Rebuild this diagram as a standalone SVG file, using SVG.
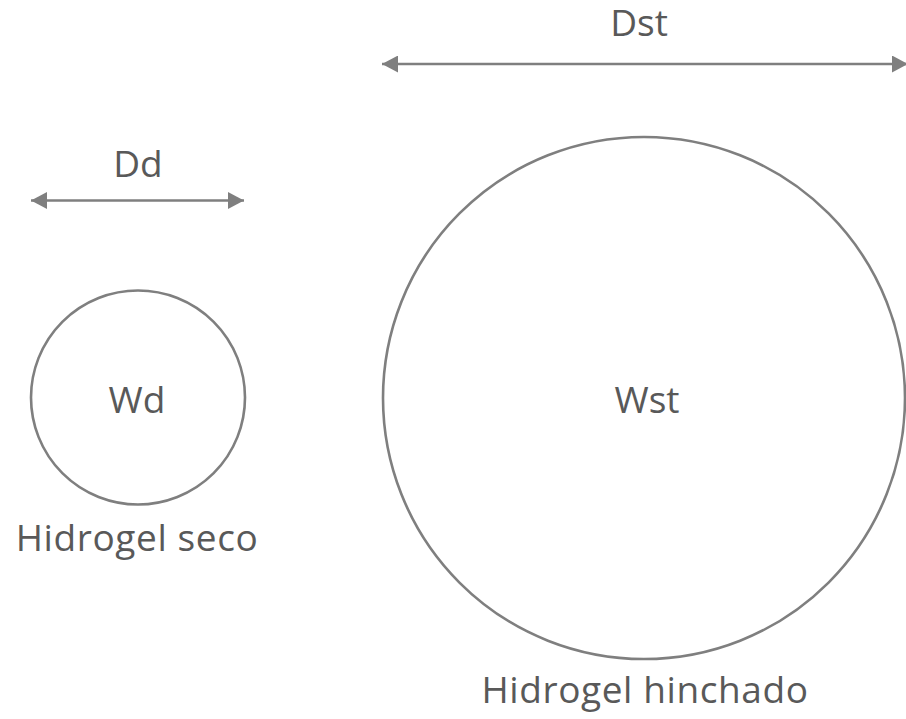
<svg xmlns="http://www.w3.org/2000/svg" width="906" height="719" viewBox="0 0 906 719">
  <style>
    .shape { fill: none; stroke: #7f7f7f; stroke-width: 2.6; }
    .dim { stroke: #7f7f7f; stroke-width: 2.6; fill: none; }
    .lbl { font-family: "Open Sans", "Liberation Sans", sans-serif; font-size: 37px; fill: #595959; text-anchor: middle; }
    .cap { letter-spacing: 0.6px; }
  </style>
  <defs>
    <marker id="head" viewBox="0 0 16 17" refX="16" refY="8.5" markerWidth="16" markerHeight="17" markerUnits="userSpaceOnUse" orient="auto-start-reverse">
      <path d="M0 0 L16 8.5 L0 17 Z" fill="#7f7f7f"/>
    </marker>
  </defs>
  <rect width="906" height="719" fill="#ffffff"/>

  <g id="connectors">
    <line class="dim" x1="382" y1="64" x2="908" y2="64" marker-start="url(#head)" marker-end="url(#head)"/>
    <line class="dim" x1="31" y1="200.5" x2="244" y2="200.5" marker-start="url(#head)" marker-end="url(#head)"/>
  </g>

  <g id="label-dst">
    <text class="lbl" x="639" y="35.5">Dst</text>
  </g>
  <g id="label-dd">
    <text class="lbl" x="138" y="177">Dd</text>
  </g>

  <g id="dry-gel">
    <circle class="shape" cx="138" cy="397.5" r="107"/>
    <text class="lbl" x="137" y="413">Wd</text>
    <text class="lbl cap" x="137" y="551">Hidrogel seco</text>
  </g>

  <g id="swollen-gel">
    <circle class="shape" cx="644" cy="398" r="261"/>
    <text class="lbl" x="647" y="413">Wst</text>
    <text class="lbl cap" x="645" y="703">Hidrogel hinchado</text>
  </g>
</svg>
